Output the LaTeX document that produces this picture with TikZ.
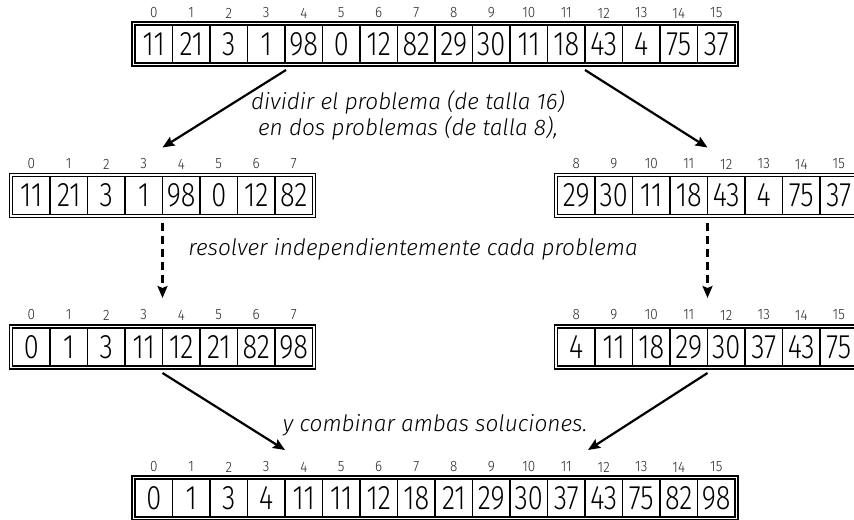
\documentclass[tikz,border=0pt]{standalone}
\usepackage{fontspec}
\setmainfont{Fira Sans Light}[ItalicFont={Fira Sans Light Italic}]
\newfontfamily\cellfont{Fira Sans Light}[FakeStretch=0.8]
\newfontfamily\idxfont{Fira Sans Light}[FakeStretch=0.9]
\usetikzlibrary{arrows.meta,fit,calc}

\begin{document}
\begin{tikzpicture}[
  x=0.5pt,
  y=-0.5pt,
  cell/.style={draw=black,line width=0.8pt,minimum width=18.75pt,minimum height=19pt,
    inner sep=0pt,outer sep=0pt,font=\cellfont\fontsize{17}{19}\selectfont},
  idx/.style={inner sep=0pt,text=black!85,font=\idxfont\fontsize{7.5}{8}\selectfont},
  frame/.style={draw=black,line width=0.6pt,inner sep=1.5pt},
  arr/.style={draw=black,line width=1.1pt,-{Stealth[length=6pt,width=5pt,inset=1pt]}},
  note/.style={align=center,font=\fontsize{11.3}{13}\selectfont\itshape}
]
  \useasboundingbox (0,0) rectangle (854,519);

  % Original array.
  \foreach \v [count=\i from 0] in {11,21,3,1,98,0,12,82,29,30,11,18,43,4,75,37} {
    \node[cell] (t\i) at (153.75+37.5*\i,44) {\v};
    \node[idx] (ti\i) at (153.75+37.5*\i,13) {\i};
  }
  \node[frame,fit=(t0)(t15)] (tf) {};

  % The two halves.
  \foreach \v [count=\i from 0] in {11,21,3,1,98,0,12,82} {
    \node[cell] (l\i) at (31.25+37.5*\i,195.5) {\v};
    \node[idx] (li\i) at (31.25+37.5*\i,164) {\i};
  }
  \node[frame,fit=(l0)(l7)] (lf) {};
  \foreach \v [count=\i from 8] in {29,30,11,18,43,4,75,37} {
    \node[cell] (r\i) at (276.25+37.5*\i,195.5) {\v};
    \node[idx] (ri\i) at (276.25+37.5*\i,164) {\i};
  }
  \node[frame,fit=(r8)(r15)] (rf) {};

  % Sorted halves.
  \foreach \v [count=\i from 0] in {0,1,3,11,12,21,82,98} {
    \node[cell] (ls\i) at (31.25+37.5*\i,347) {\v};
    \node[idx] (lsi\i) at (31.25+37.5*\i,315) {\i};
  }
  \node[frame,fit=(ls0)(ls7)] (lsf) {};
  \foreach \v [count=\i from 8] in {4,11,18,29,30,37,43,75} {
    \node[cell] (rs\i) at (276.25+37.5*\i,347) {\v};
    \node[idx] (rsi\i) at (276.25+37.5*\i,315) {\i};
  }
  \node[frame,fit=(rs8)(rs15)] (rsf) {};

  % Merged result.
  \foreach \v [count=\i from 0] in {0,1,3,4,11,11,12,18,21,29,30,37,43,75,82,98} {
    \node[cell] (m\i) at (153.75+37.5*\i,498) {\v};
    \node[idx] (mi\i) at (153.75+37.5*\i,467) {\i};
  }
  \node[frame,fit=(m0)(m15)] (mf) {};

  % Arrow ends.
  \coordinate (splitL) at ($(t4.south west)+(1,7)$);
  \coordinate (splitR) at ($(t12.south west)+(0,7)$);
  \coordinate (halfL) at ($(l4.north west)+(0,-29)$);
  \coordinate (halfR) at ($(r12.north west)+(0,-29)$);
  \coordinate (solveL) at ($(l4.south west)+(0,8)$);
  \coordinate (solveR) at ($(r12.south west)+(0,8)$);
  \coordinate (doneL) at ($(ls4.north west)+(0,-30)$);
  \coordinate (doneR) at ($(rs12.north west)+(0,-30)$);
  \coordinate (joinL) at ($(ls4.south west)+(0,7)$);
  \coordinate (joinR) at ($(rs12.south west)+(0,7)$);
  \coordinate (mergeL) at ($(m4.north west)+(0,-29)$);
  \coordinate (mergeR) at ($(m12.north west)+(3,-29)$);

  \draw[arr] (splitL) -- (halfL);
  \draw[arr] (splitR) -- (halfR);
  \draw[arr,dash pattern=on 4pt off 2.5pt] (solveL) -- (doneL);
  \draw[arr,dash pattern=on 4pt off 2.5pt] (solveR) -- (doneR);
  \draw[arr] (joinL) -- (mergeL);
  \draw[arr] (joinR) -- (mergeR);

  % Step notes.
  \node[note] (divide) at (408,115) {dividir el problema (de talla 16)\\en dos problemas (de talla 8),};
  \node[note] (solve) at (413,249) {resolver independientemente cada problema};
  \node[note] (combine) at (435,425) {y combinar ambas soluciones.};
\end{tikzpicture}
\end{document}
